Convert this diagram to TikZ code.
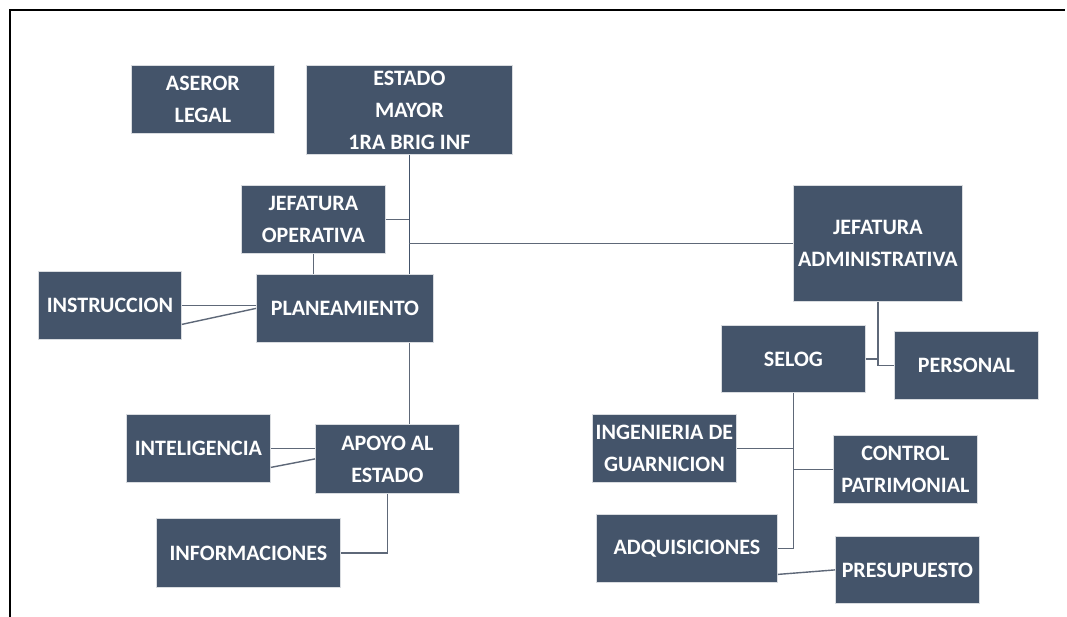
\documentclass[tikz,border=0pt]{standalone}
\usepackage{fontspec}
\setmainfont{Carlito}
\usetikzlibrary{calc}
\definecolor{boxfill}{HTML}{44546A}
\definecolor{boxedge}{HTML}{D9DCE0}
\definecolor{linkc}{HTML}{5E6878}
\tikzset{
  box/.style={draw=boxedge, line width=0.8pt, fill=boxfill, text=white, anchor=north west,
    inner sep=0pt, align=center, font=\bfseries\fontsize{22}{32}\selectfont},
  link/.style={draw=linkc, line width=1.4pt},
  trunk/.style={draw=boxfill, line width=1.8pt},
  frameline/.style={draw=black, line width=2pt}
}
\newcommand{\bx}[6]{% name, x1, y1, x2, y2, text
  \node[box, minimum width=#4pt-#2pt, minimum height=#5pt-#3pt] (#1) at (#2,#3) {#6};}
\begin{document}
\begin{tikzpicture}[x=1pt, y=-1pt]
\useasboundingbox (0,0) rectangle (1067,617);
\fill[white] (0,0) rectangle (1067,617);
\draw[frameline] (9,10.5) -- (1065,10.5);
\draw[frameline] (10,10) -- (10,617);

\bx{aseror}{131}{65}{274}{133}{ASEROR\\LEGAL}
\bx{estado}{306}{65}{512}{154}{ESTADO\\MAYOR\\1RA BRIG INF}
\bx{jefop}{241}{185}{385}{253}{JEFATURA\\OPERATIVA}
\bx{plan}{256}{274}{433}{342}{PLANEAMIENTO}
\bx{instr}{38}{271}{181}{339}{INSTRUCCION}
\bx{apoyo}{315}{424}{459}{493}{APOYO AL\\ESTADO}
\bx{intel}{126}{414}{270}{482}{INTELIGENCIA}
\bx{inform}{156}{518}{340}{587}{INFORMACIONES}
\bx{jefadm}{793}{185}{962}{301}{JEFATURA\\ADMINISTRATIVA}
\bx{selog}{721}{325}{865}{392}{SELOG}
\bx{personal}{894}{331}{1038}{399}{PERSONAL}
\bx{ingen}{592}{414}{736}{482}{INGENIERIA DE\\GUARNICION}
\bx{control}{833}{435}{977}{503}{CONTROL\\PATRIMONIAL}
\bx{adq}{596}{514}{777}{582}{ADQUISICIONES}
\bx{presu}{835}{536}{979}{603}{PRESUPUESTO}

% left branch
\draw[trunk] (estado.south) -- (estado.south |- plan.north);
\draw[link] (jefop.east) -- (jefop.east -| estado.south);
\draw[link] (estado.south |- jefadm.west) -- (jefadm.west);
\draw[link] (jefop.south) -- (jefop.south |- plan.north);
\draw[link] (instr.east) -- (instr.east -| plan.west);
\draw[link] ([yshift=-19pt]instr.east) -- (plan.west);
\draw[link] (estado.south |- plan.south) -- (estado.south |- apoyo.north);
\draw[link] (intel.east) -- (intel.east -| apoyo.west);
\draw[link] ([yshift=-19pt]intel.east) -- (apoyo.west);
\draw[link] (apoyo.south) |- (inform.east);

% right branch
\draw[link] (jefadm.south) |- (personal.west);
\draw[link] (selog.east) -- (selog.east -| jefadm.south);
\draw[link] (selog.south) |- (adq.east);
\draw[link] (ingen.east) -- (ingen.east -| selog.south);
\draw[link] (control.west) -- (control.west -| selog.south);
\draw[link] ([yshift=-26pt]adq.east) -- (presu.west);
\end{tikzpicture}
\end{document}
